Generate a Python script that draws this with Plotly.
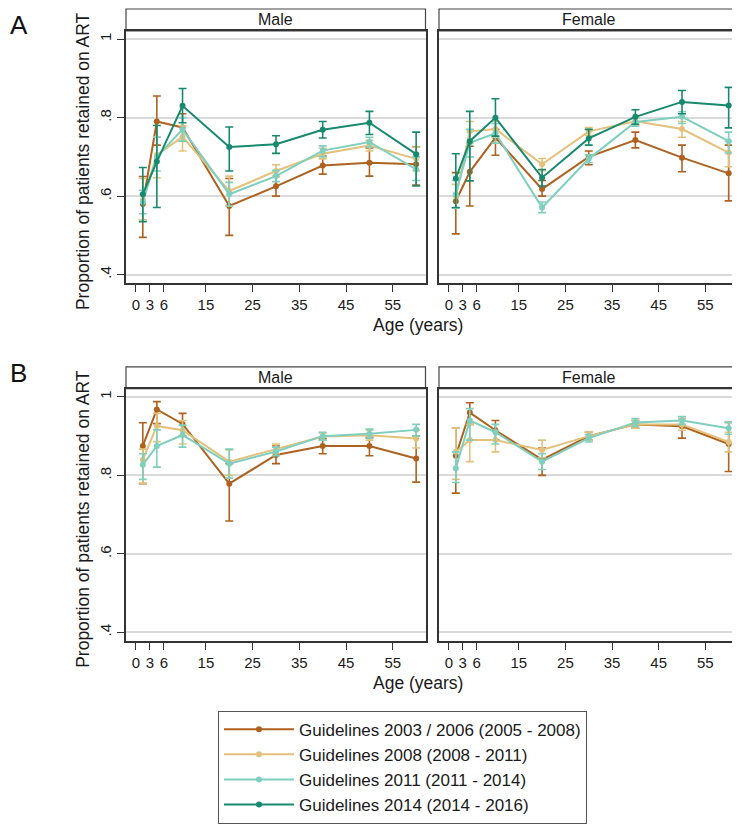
import plotly.graph_objects as go

# The page body has an 8px margin, so the figure is sized and positioned to compensate.
OFF = 8
W, H = 740 - OFF, 824 - OFF

ages = [1.5, 4.5, 10, 20, 30, 40, 50, 60]
x_ticks = [0, 3, 6, 15, 25, 35, 45, 55]
y_ticks = [0.4, 0.6, 0.8, 1.0]
y_ticklabels = [".4", ".6", ".8", "1"]

series_names = [
    "Guidelines 2003 / 2006 (2005 - 2008)",
    "Guidelines 2008 (2008 - 2011)",
    "Guidelines 2011 (2011 - 2014)",
    "Guidelines 2014 (2014 - 2016)",
]
colors = ["#ae621f", "#e3c17c", "#7fcfbf", "#17896f"]

# Panel A - Male: (mid, low, high)
a_male_0306 = [0.58, 0.79, 0.775, 0.575, 0.625, 0.678, 0.685, 0.681]
a_male_0306_lo = [0.495, 0.73, 0.74, 0.50, 0.60, 0.656, 0.651, 0.628]
a_male_0306_hi = [0.65, 0.855, 0.81, 0.645, 0.65, 0.702, 0.723, 0.726]
a_male_2008 = [0.59, 0.705, 0.751, 0.613, 0.664, 0.708, 0.729, 0.695]
a_male_2008_lo = [0.54, 0.647, 0.715, 0.575, 0.65, 0.695, 0.715, 0.665]
a_male_2008_hi = [0.645, 0.751, 0.779, 0.651, 0.68, 0.722, 0.742, 0.725]
a_male_2011 = [0.585, 0.70, 0.77, 0.605, 0.651, 0.716, 0.738, 0.668]
a_male_2011_lo = [0.555, 0.664, 0.74, 0.575, 0.637, 0.70, 0.725, 0.64]
a_male_2011_hi = [0.615, 0.75, 0.80, 0.635, 0.665, 0.728, 0.75, 0.70]
a_male_2014 = [0.605, 0.688, 0.83, 0.725, 0.732, 0.769, 0.787, 0.707]
a_male_2014_lo = [0.535, 0.571, 0.787, 0.664, 0.709, 0.748, 0.757, 0.626]
a_male_2014_hi = [0.673, 0.78, 0.874, 0.776, 0.754, 0.79, 0.816, 0.763]

# Panel A - Female
a_fem_0306 = [0.587, 0.662, 0.749, 0.618, 0.70, 0.743, 0.698, 0.658]
a_fem_0306_lo = [0.504, 0.575, 0.704, 0.60, 0.68, 0.723, 0.662, 0.588]
a_fem_0306_hi = [0.66, 0.727, 0.77, 0.64, 0.715, 0.763, 0.73, 0.73]
a_fem_2008 = [0.60, 0.765, 0.771, 0.681, 0.765, 0.791, 0.771, 0.711]
a_fem_2008_lo = [0.57, 0.735, 0.75, 0.665, 0.755, 0.78, 0.75, 0.675]
a_fem_2008_hi = [0.63, 0.79, 0.79, 0.696, 0.775, 0.80, 0.79, 0.74]
a_fem_2011 = [0.605, 0.736, 0.76, 0.571, 0.695, 0.789, 0.802, 0.74]
a_fem_2011_lo = [0.57, 0.70, 0.735, 0.558, 0.685, 0.778, 0.785, 0.71]
a_fem_2011_hi = [0.64, 0.77, 0.785, 0.585, 0.705, 0.80, 0.815, 0.763]
a_fem_2014 = [0.645, 0.74, 0.80, 0.647, 0.747, 0.802, 0.84, 0.831]
a_fem_2014_lo = [0.571, 0.639, 0.753, 0.626, 0.73, 0.783, 0.81, 0.774]
a_fem_2014_hi = [0.708, 0.816, 0.848, 0.668, 0.77, 0.82, 0.869, 0.877]

# Panel B - Male
b_male_0306 = [0.875, 0.968, 0.931, 0.779, 0.852, 0.875, 0.875, 0.843]
b_male_0306_lo = [0.779, 0.932, 0.90, 0.684, 0.83, 0.855, 0.85, 0.783]
b_male_0306_hi = [0.934, 0.988, 0.958, 0.83, 0.875, 0.893, 0.897, 0.90]
b_male_2008 = [0.84, 0.926, 0.915, 0.835, 0.867, 0.899, 0.902, 0.894]
b_male_2008_lo = [0.78, 0.886, 0.88, 0.80, 0.855, 0.89, 0.89, 0.87]
b_male_2008_hi = [0.867, 0.958, 0.94, 0.865, 0.88, 0.908, 0.915, 0.915]
b_male_2011 = [0.827, 0.875, 0.903, 0.83, 0.861, 0.90, 0.906, 0.916]
b_male_2011_lo = [0.79, 0.821, 0.872, 0.793, 0.85, 0.89, 0.895, 0.90]
b_male_2011_hi = [0.855, 0.916, 0.928, 0.867, 0.872, 0.91, 0.918, 0.93]

# Panel B - Female
b_fem_0306 = [0.85, 0.96, 0.915, 0.84, 0.90, 0.93, 0.925, 0.88]
b_fem_0306_lo = [0.755, 0.93, 0.89, 0.80, 0.89, 0.92, 0.895, 0.81]
b_fem_0306_hi = [0.92, 0.985, 0.94, 0.87, 0.91, 0.94, 0.945, 0.935]
b_fem_2008 = [0.86, 0.89, 0.89, 0.865, 0.90, 0.93, 0.93, 0.885]
b_fem_2008_lo = [0.79, 0.835, 0.86, 0.845, 0.89, 0.92, 0.915, 0.86]
b_fem_2008_hi = [0.92, 0.93, 0.915, 0.89, 0.91, 0.94, 0.945, 0.91]
b_fem_2011 = [0.818, 0.94, 0.91, 0.835, 0.895, 0.935, 0.94, 0.92]
b_fem_2011_lo = [0.782, 0.89, 0.88, 0.815, 0.885, 0.925, 0.93, 0.905]
b_fem_2011_hi = [0.86, 0.97, 0.93, 0.855, 0.905, 0.945, 0.95, 0.935]

panels = {
    "A_male": [(a_male_0306, a_male_0306_lo, a_male_0306_hi),
               (a_male_2008, a_male_2008_lo, a_male_2008_hi),
               (a_male_2011, a_male_2011_lo, a_male_2011_hi),
               (a_male_2014, a_male_2014_lo, a_male_2014_hi)],
    "A_female": [(a_fem_0306, a_fem_0306_lo, a_fem_0306_hi),
                 (a_fem_2008, a_fem_2008_lo, a_fem_2008_hi),
                 (a_fem_2011, a_fem_2011_lo, a_fem_2011_hi),
                 (a_fem_2014, a_fem_2014_lo, a_fem_2014_hi)],
    "B_male": [(b_male_0306, b_male_0306_lo, b_male_0306_hi),
               (b_male_2008, b_male_2008_lo, b_male_2008_hi),
               (b_male_2011, b_male_2011_lo, b_male_2011_hi)],
    "B_female": [(b_fem_0306, b_fem_0306_lo, b_fem_0306_hi),
                 (b_fem_2008, b_fem_2008_lo, b_fem_2008_hi),
                 (b_fem_2011, b_fem_2011_lo, b_fem_2011_hi)],
}

# layout geometry (window pixels)
X_M = (126, 425.5)
X_F = (439, 738)
Y_A = (31, 285)
Y_B = (391, 645)
HDR = 22


def px(x):
    return (x - OFF) / W


def py(y):
    return 1 - (y - OFF) / H


axes_map = {
    "A_male": ("x", "y", X_M, Y_A, True),
    "A_female": ("x2", "y2", X_F, Y_A, False),
    "B_male": ("x3", "y3", X_M, Y_B, True),
    "B_female": ("x4", "y4", X_F, Y_B, False),
}

FONT = "Liberation Sans, Arial, sans-serif"
fig = go.Figure()

for key, series in panels.items():
    xa, ya, _, _, _ = axes_map[key]
    for i, (mid, lo, hi) in enumerate(series):
        fig.add_trace(go.Scatter(
            x=ages, y=mid, xaxis=xa, yaxis=ya,
            mode="lines+markers",
            name=series_names[i],
            legendgroup=series_names[i],
            showlegend=(key == "A_male"),
            line=dict(color=colors[i], width=2),
            marker=dict(color=colors[i], size=6),
            error_y=dict(type="data", symmetric=False,
                         array=[h - m for h, m in zip(hi, mid)],
                         arrayminus=[m - l for m, l in zip(mid, lo)],
                         color=colors[i], thickness=1.6, width=4),
        ))

layout = dict(
    width=W, height=H,
    margin=dict(l=0, r=0, t=0, b=0),
    paper_bgcolor="white", plot_bgcolor="white",
    font=dict(family=FONT, color="#1a1a1a"),
    showlegend=True,
    legend=dict(x=px(218), y=py(715), xanchor="left", yanchor="top",
                bordercolor="#555555", borderwidth=1, bgcolor="white",
                font=dict(size=17, family=FONT, color="#1a1a1a"),
                itemwidth=70, tracegroupgap=3, traceorder="normal"),
)

shapes = []
annotations = []
for key, (xa, ya, XR, YR, is_left) in axes_map.items():
    xname = "xaxis" if xa == "x" else "xaxis" + xa[1:]
    yname = "yaxis" if ya == "y" else "yaxis" + ya[1:]
    layout[xname] = dict(
        domain=[px(XR[0]), px(XR[1])], anchor=ya, range=[-2.1, 62],
        tickvals=x_ticks, ticktext=[str(t) for t in x_ticks],
        ticks="outside", ticklen=7, tickwidth=1.2, tickcolor="#333333",
        showline=True, mirror=True, linecolor="#333333", linewidth=1.5,
        showgrid=False, zeroline=False,
        tickfont=dict(size=15, family=FONT, color="#1a1a1a"),
    )
    layout[yname] = dict(
        domain=[py(YR[1]), py(YR[0])], anchor=xa, range=[0.378, 1.021],
        tickvals=y_ticks, ticktext=y_ticklabels,
        ticks="outside" if is_left else "", ticklen=7, tickwidth=1.2,
        tickcolor="#333333", showticklabels=is_left, tickangle=-90,
        showline=True, mirror=True, linecolor="#333333", linewidth=1.5,
        showgrid=True, gridcolor="#dadada", gridwidth=1.5, zeroline=False,
        tickfont=dict(size=15, family=FONT, color="#1a1a1a"),
    )
    # header strip
    shapes.append(dict(type="rect", xref="paper", yref="paper",
                       x0=px(XR[0]), x1=px(XR[1]),
                       y0=py(YR[0]), y1=py(YR[0] - HDR),
                       line=dict(color="#444444", width=1.2),
                       fillcolor="white", layer="below"))
    annotations.append(dict(text="Male" if is_left else "Female",
                            xref="paper", yref="paper",
                            x=px((XR[0] + XR[1]) / 2), y=py(YR[0] - HDR / 2),
                            showarrow=False, xanchor="center", yanchor="middle",
                            font=dict(size=16, family=FONT, color="#1a1a1a")))

for YR, letter, ly in ((Y_A, "A", OFF), (Y_B, "B", 358)):
    annotations.append(dict(text="Proportion of patients retained on ART",
                            xref="paper", yref="paper",
                            x=px(83), y=py((YR[0] + YR[1]) / 2 + 4),
                            textangle=-90, showarrow=False,
                            xanchor="center", yanchor="middle",
                            font=dict(size=17.5, family=FONT, color="#1a1a1a")))
    annotations.append(dict(text="Age (years)", xref="paper", yref="paper",
                            x=px(418), y=py(YR[1] + 42), showarrow=False,
                            xanchor="center", yanchor="middle",
                            font=dict(size=17.5, family=FONT, color="#1a1a1a")))
    annotations.append(dict(text=letter, xref="paper", yref="paper",
                            x=px(OFF), y=py(ly), showarrow=False,
                            xanchor="left", yanchor="top",
                            font=dict(size=26, family=FONT, color="#111111")))

layout["shapes"] = shapes
layout["annotations"] = annotations
fig.update_layout(**layout)

fig.write_html("out.html")
